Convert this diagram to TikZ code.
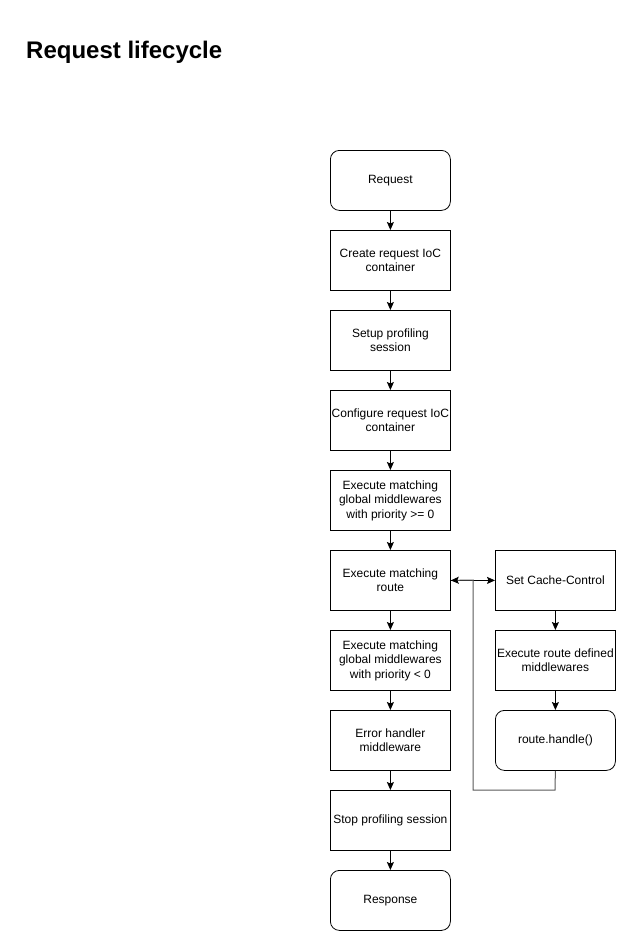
\documentclass[tikz,border=0pt]{standalone}
\usepackage{fontspec}
\setmainfont{Liberation Sans}
\usetikzlibrary{arrows.meta}
\begin{document}
\begin{tikzpicture}[x=1pt,y=-1pt,
  box/.style={draw=black, line width=0.8pt, minimum width=120pt, minimum height=60pt, inner sep=1pt, align=center, font=\fontsize{12}{14.5}\selectfont, anchor=north west},
  rbox/.style={box, rounded corners=9pt},
  arr/.style={line width=0.8pt, -{Stealth[length=8pt,width=7pt,inset=1.5pt]}},
  ret/.style={line width=1pt, draw=black!65, -{Stealth[length=8pt,width=7pt,inset=1.5pt,color=black]}}
]
\useasboundingbox (0,0) rectangle (636,951);
\node[anchor=base west, inner sep=0pt, font=\fontsize{24}{27}\selectfont\bfseries] (title) at (26,58) {Request lifecycle};

\node[rbox] (req) at (330,150) {Request};
\node[box] (create) at (330,230) {Create request IoC\\container};
\node[box] (setup) at (330,310) {Setup profiling\\session};
\node[box] (config) at (330,390) {Configure request IoC\\container};
\node[box] (glob1) at (330,470) {Execute matching\\global middlewares\\with priority >= 0};
\node[box] (route) at (330,550) {Execute matching\\route};
\node[box] (glob2) at (330,630) {Execute matching\\global middlewares\\with priority < 0};
\node[box] (err) at (330,710) {Error handler\\middleware};
\node[box] (stop) at (330,790) {Stop profiling session};
\node[rbox] (resp) at (330,870) {Response};

\node[box] (cache) at (495,550) {Set Cache-Control};
\node[box] (rmw) at (495,630) {Execute route defined\\middlewares};
\node[rbox] (handle) at (495,710) {route.handle()};

\draw[arr] (req) -- (create);
\draw[arr] (create) -- (setup);
\draw[arr] (setup) -- (config);
\draw[arr] (config) -- (glob1);
\draw[arr] (glob1) -- (route);
\draw[arr] (route) -- (glob2);
\draw[arr] (glob2) -- (err);
\draw[arr] (err) -- (stop);
\draw[arr] (stop) -- (resp);

\draw[arr] (route.east) -- (cache.west);
\draw[arr] (cache) -- (rmw);
\draw[arr] (rmw) -- (handle);

\coordinate (c1) at (555,790);
\coordinate (c2) at (473,790);
\coordinate (c3) at (473,580);
\draw[ret] (handle.south) -- (c1) -- (c2) -- (c3) -- (route.east);
\end{tikzpicture}
\end{document}
